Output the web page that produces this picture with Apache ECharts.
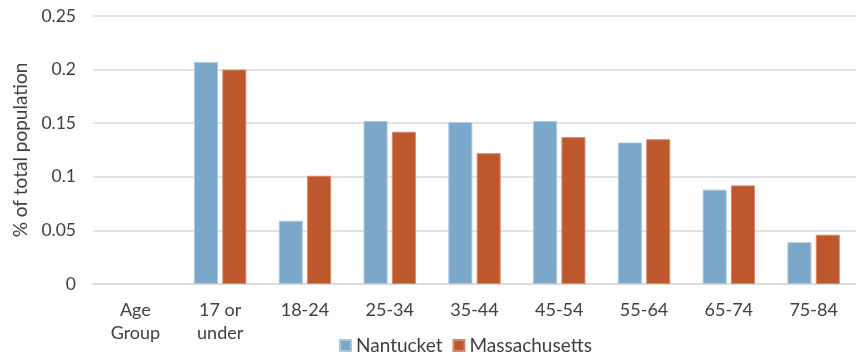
<!DOCTYPE html>
<html>
<head>
<meta charset="utf-8">
<script src="https://cdn.jsdelivr.net/npm/echarts@6/dist/echarts.min.js"></script>
<style>
  html, body { margin: 0; padding: 0; background: #fff; }
  #chart { width: 856px; height: 358px; }
</style>
</head>
<body>
<div id="chart"></div>
<script>
// Age-group categories (first slot is the axis caption column, with no bars)
const categories = ['Age\nGroup', '17 or\nunder', '18-24', '25-34', '35-44', '45-54', '55-64', '65-74', '75-84'];
// Share of total population per age group
const nantucket = [null, 0.207, 0.059, 0.152, 0.151, 0.152, 0.132, 0.088, 0.039];
const massachusetts = [null, 0.200, 0.101, 0.142, 0.122, 0.137, 0.135, 0.092, 0.046];
const yTicks = [0, 0.05, 0.1, 0.15, 0.2, 0.25];

const font = 'Lato, "Open Sans", sans-serif';
const textColor = '#404040';
const chart = echarts.init(document.getElementById('chart'), null, { renderer: 'canvas' });

chart.setOption({
  animation: false,
  textStyle: { fontFamily: font },
  grid: { left: 93, right: -1, top: 16, bottom: 74 },
  legend: {
    top: 336,
    left: 339,
    padding: 0,
    itemWidth: 11,
    itemHeight: 11,
    itemGap: 10,
    icon: 'rect',
    textStyle: { fontFamily: font, fontSize: 19, color: textColor },
    data: ['Nantucket', 'Massachusetts']
  },
  xAxis: {
    type: 'category',
    data: categories,
    axisLine: { show: true, lineStyle: { color: '#d9d9d9', width: 1.5 } },
    axisTick: { show: false },
    axisLabel: {
      fontFamily: font, fontSize: 18, color: textColor,
      margin: 14, lineHeight: 23.5, interval: 0
    }
  },
  yAxis: {
    type: 'value',
    min: 0,
    max: yTicks[yTicks.length - 1],
    interval: 0.05,
    name: '% of total population',
    nameLocation: 'middle',
    nameGap: 62,
    nameTextStyle: { fontFamily: font, fontSize: 19, color: textColor },
    axisLine: { show: false },
    axisTick: { show: false },
    axisLabel: {
      fontFamily: font, fontSize: 17.5, color: textColor, margin: 17,
      formatter: v => String(Math.round(v * 100) / 100)
    },
    splitLine: { lineStyle: { color: '#d9d9d9', width: 1.5 } }
  },
  series: [
    {
      name: 'Nantucket',
      type: 'bar',
      data: nantucket,
      barWidth: 24,
      barGap: '18%',
      itemStyle: { color: '#7BA7C9', borderColor: '#a9c7de', borderWidth: 1 }
    },
    {
      name: 'Massachusetts',
      type: 'bar',
      data: massachusetts,
      barWidth: 24,
      itemStyle: { color: '#BC582B', borderColor: '#d9876a', borderWidth: 1 }
    }
  ]
});
</script>
</body>
</html>
